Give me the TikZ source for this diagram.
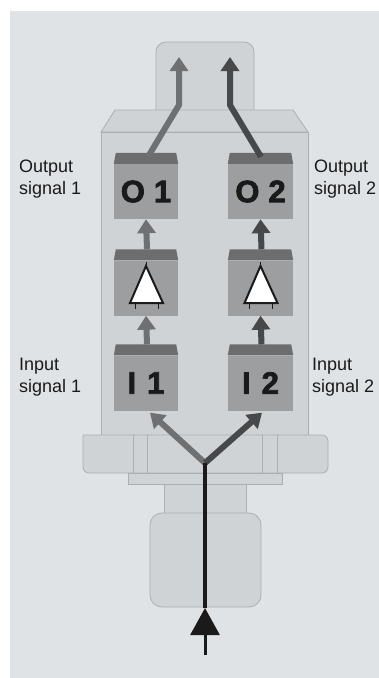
\documentclass[tikz,border=0pt]{standalone}
\usepackage{fontspec}
\setmainfont{Liberation Sans}[BoldFeatures={FakeBold=2.4}]
\usetikzlibrary{arrows.meta,calc}
\definecolor{panel}{HTML}{E0E3E6}
\definecolor{part}{HTML}{D0D3D6}
\definecolor{partedge}{HTML}{ACAFB2}
\definecolor{boxfill}{HTML}{9C9EA0}
\definecolor{boxtop}{HTML}{6B6D6F}
\definecolor{sigA}{HTML}{6E7072}
\definecolor{sigB}{HTML}{46484A}
\definecolor{ink}{HTML}{1A1A1A}

% dark lid on top of a stage block
\newcommand\stagelid[1]{%
  \fill[boxtop] (#1.north west) -- ([xshift=2pt,yshift=11pt]#1.north west)
    -- ([xshift=-2pt,yshift=11pt]#1.north east) -- (#1.north east) -- cycle;}

\begin{document}
\begin{tikzpicture}[x=1pt,y=-1pt,
  partshape/.style={fill=part,draw=partedge,line width=0.8pt},
  stage/.style={rectangle,fill=boxfill,minimum width=64pt,minimum height=55pt,
    inner sep=0pt,text=ink,font=\fontsize{31}{32}\selectfont\bfseries},
  label/.style={inner sep=0pt,align=left,text=ink,
    font=\fontsize{18}{22}\selectfont},
  sigone/.style={draw=sigA,line width=6pt,-{Triangle[width=18pt,length=14pt]}},
  sigtwo/.style={draw=sigB,line width=6pt,-{Triangle[width=18pt,length=14pt]}},
  ampsym/.pic={
    \draw[ink,line width=0.9pt] (-11,15) -- (-11,21) (12,15) -- (12,21) (0,-22) -- (0,-26);
    \draw[ink,fill=white,line width=2pt,line join=miter] (0,-22) -- (17,15) -- (-16,15) -- cycle;
  }]
  % canvas
  \fill[white] (0,0) rectangle (379,678);
  \fill[panel] (10,11) rectangle (379,678);

  % sensor housing
  \draw[partshape,rounded corners=10pt] (156,112) -- (156,42) -- (254,42) -- (254,112);
  \draw[partshape] (115,110) -- (293,110) -- (308,132) -- (101,132) -- cycle;
  \draw[partshape] (101,132) rectangle (308,435);
  \draw[partshape,rounded corners=6pt] (83,435) -- (83,473) -- (328,473) -- (328,435) [sharp corners] -- cycle;
  \draw[partedge,line width=0.8pt] (133,435) -- (133,473) (147,435) -- (147,473)
    (262,435) -- (262,473) (277,435) -- (277,473);
  \draw[partshape] (128,473) rectangle (282,484);
  \draw[partshape] (164,484) rectangle (246,513);
  \draw[partshape,rounded corners=12pt] (150,513) rectangle (261,607);

  % signal stages
  \node[stage] (o1) at (146,191.5) {O\hspace{9pt}1};
  \node[stage,minimum width=65pt] (o2) at (260.5,191.5) {O\hspace{9pt}2};
  \node[stage] (a1) at (146,288) {};
  \node[stage,minimum width=65pt] (a2) at (260.5,288) {};
  \node[stage] (i1) at (146,383) {I\hspace{11pt}1};
  \node[stage,minimum width=65pt] (i2) at (260.5,383) {I\hspace{11pt}2};
  \foreach \b in {o1,o2,a1,a2,i1,i2} {\stagelid{\b}}
  \pic at (a1.center) {ampsym};
  \pic at (a2.center) {ampsym};

  % labels (base anchor sits on the last line)
  \node[label,anchor=base west] (lo1) at (19,194) {Output\\signal 1};
  \node[label,anchor=base west] (lo2) at (314,194) {Output\\signal 2};
  \node[label,anchor=base west] (li1) at (19,392) {Input\\signal 1};
  \node[label,anchor=base west] (li2) at (312,392) {Input\\signal 2};

  % signal paths
  \coordinate (j) at (205,463);
  \coordinate (src) at (205,655);
  \coordinate (tip) at (205,608);
  \coordinate (b1) at (179,105);
  \coordinate (b2) at (230,105);
  \coordinate (out1) at (179,57);
  \coordinate (out2) at (230,57);

  \draw[sigone] (j) -- ([xshift=4pt,yshift=-2pt]i1.south);
  \draw[sigtwo] (j) -- ([xshift=1.5pt,yshift=-2pt]i2.south);
  \draw[ink,line width=4pt] (tip) -- (j);
  \draw[ink,line width=3pt,-{Triangle[width=29pt,length=27pt]}] (src) -- (tip);

  \draw[sigone] ([xshift=1pt,yshift=11pt]i1.north) -- (a1.south);
  \draw[sigtwo] ([xshift=1pt,yshift=11pt]i2.north) -- (a2.south);
  \draw[sigone] ([xshift=1pt,yshift=11pt]a1.north) -- (o1.south);
  \draw[sigtwo] ([xshift=1pt,yshift=11pt]a2.north) -- (o2.south);

  \draw[sigone] ([xshift=2pt,yshift=7pt]o1.north) -- (b1) -- (out1);
  \draw[sigtwo] ([xshift=0.5pt,yshift=7pt]o2.north) -- (b2) -- (out2);
\end{tikzpicture}
\end{document}
